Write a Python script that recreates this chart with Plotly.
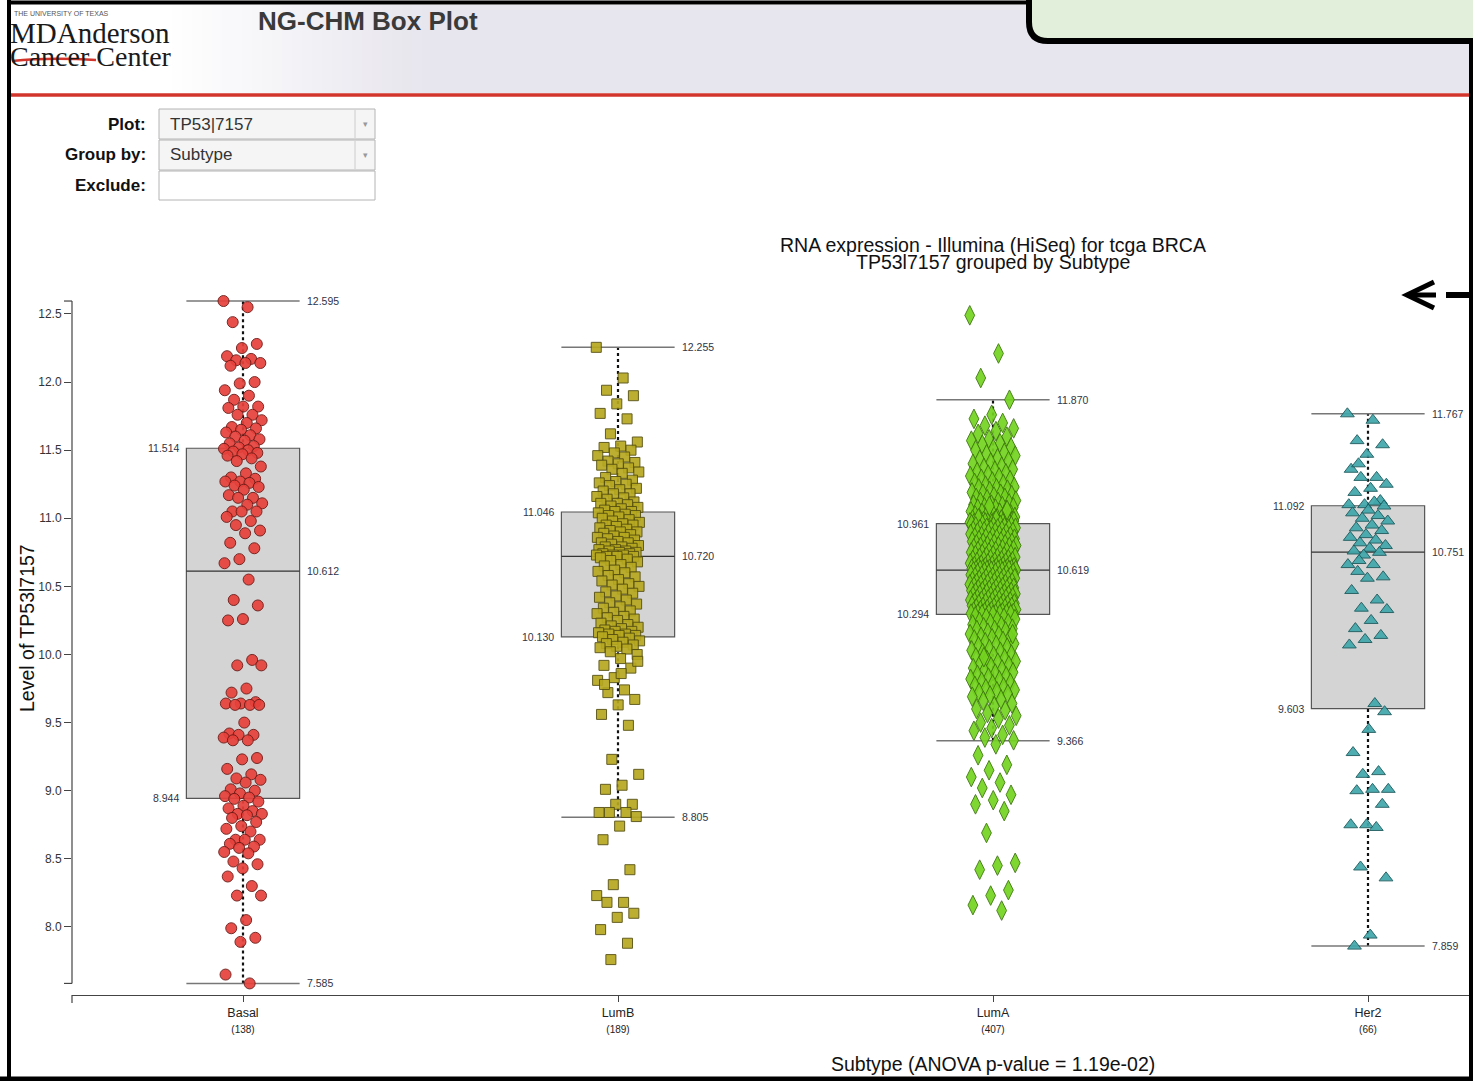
import plotly.graph_objects as go

W, H = 1473, 1081

# ---------------------------------------------------------------- data
categories = ["Basal", "LumB", "LumA", "Her2"]

basal = [
    12.595, 12.55, 12.44, 12.28, 12.25, 12.19, 12.17, 12.16, 12.14, 12.14,
    12.12, 12.00, 11.99, 11.94, 11.90, 11.87, 11.82, 11.82, 11.81, 11.76,
    11.76, 11.72, 11.70, 11.67, 11.66, 11.65, 11.63, 11.61, 11.60, 11.58,
    11.57, 11.55, 11.53, 11.52,
    11.51, 11.50, 11.49, 11.48, 11.47, 11.46, 11.44, 11.42, 11.38, 11.33,
    11.30, 11.29, 11.27, 11.27, 11.26, 11.24, 11.23, 11.21, 11.17, 11.15,
    11.15, 11.11, 11.10, 11.05, 11.05, 11.05, 11.01, 10.98, 10.95, 10.91,
    10.89, 10.82, 10.78, 10.70, 10.67,
    10.55, 10.40, 10.36, 10.26, 10.25, 9.96, 9.92, 9.92, 9.75, 9.72,
    9.65, 9.64, 9.64, 9.63, 9.63, 9.63, 9.50, 9.42, 9.41, 9.41,
    9.39, 9.37, 9.37, 9.24, 9.23, 9.16, 9.12, 9.09, 9.08, 9.06,
    9.01, 9.00, 8.98, 8.96, 8.95,
    8.94, 8.92, 8.89, 8.87, 8.85, 8.83, 8.83, 8.82, 8.80, 8.77,
    8.74, 8.72, 8.70, 8.64, 8.64, 8.64, 8.61, 8.59, 8.58, 8.55,
    8.54, 8.48, 8.46, 8.43, 8.37, 8.30, 8.23, 8.23, 8.05, 7.99,
    7.92, 7.89, 7.65, 7.585,
]

lumb = [
    12.255, 12.03, 11.94, 11.90, 11.84, 11.77, 11.73, 11.62, 11.56, 11.53,
    11.52, 11.50, 11.48, 11.46, 11.45, 11.42, 11.41, 11.40, 11.39, 11.37,
    11.36, 11.34, 11.33, 11.30, 11.28, 11.27, 11.26, 11.25, 11.24, 11.22,
    11.21, 11.20, 11.18, 11.18, 11.16, 11.15, 11.14, 11.12, 11.11, 11.11,
    11.10, 11.09, 11.08, 11.07, 11.06, 11.05, 11.05,
    11.04, 11.03, 11.02, 11.02, 11.01, 11.00, 10.99, 10.98, 10.97, 10.96,
    10.95, 10.95, 10.94, 10.93, 10.92, 10.91, 10.90, 10.90, 10.89, 10.88,
    10.87, 10.86, 10.86, 10.85, 10.84, 10.83, 10.82, 10.82, 10.81, 10.80,
    10.79, 10.79, 10.78, 10.77, 10.77, 10.76, 10.76, 10.75, 10.75, 10.74,
    10.74, 10.73, 10.73, 10.73, 10.72, 10.72, 10.72,
    10.71, 10.70, 10.69, 10.68, 10.66, 10.65, 10.64, 10.62, 10.61, 10.60,
    10.58, 10.57, 10.55, 10.54, 10.52, 10.51, 10.50, 10.48, 10.46, 10.45,
    10.43, 10.42, 10.40, 10.38, 10.37, 10.35, 10.34, 10.32, 10.31, 10.30,
    10.28, 10.27, 10.26, 10.25, 10.23, 10.22, 10.21, 10.20, 10.19, 10.18,
    10.17, 10.17, 10.16, 10.15, 10.15, 10.14, 10.14, 10.13,
    10.12, 10.11, 10.10, 10.09, 10.08, 10.07, 10.06, 10.05, 10.04, 10.02,
    10.00, 9.97, 9.92, 9.90, 9.83, 9.81, 9.74, 9.72, 9.67, 9.63,
    9.56, 9.48, 9.23, 9.12, 9.04, 9.01, 8.90, 8.90, 8.84, 8.84,
    8.84, 8.81, 8.74, 8.64, 8.42, 8.31, 8.23, 8.18, 8.18, 8.10,
    8.07, 7.98, 7.88, 7.76, 9.95, 9.86, 9.78,
]

luma = [
    12.49, 12.21, 12.03, 11.87, 11.76, 11.73, 11.70, 11.68, 11.66, 11.64,
    11.62, 11.60, 11.58, 11.57, 11.55, 11.54, 11.52, 11.51, 11.50, 11.48,
    11.47, 11.46, 11.44, 11.43, 11.42, 11.41, 11.40, 11.38, 11.37, 11.36,
    11.35, 11.34, 11.33, 11.32, 11.31, 11.30, 11.29, 11.28, 11.27, 11.26,
    11.25, 11.24, 11.23, 11.22, 11.22, 11.21, 11.20, 11.19, 11.18, 11.18,
    11.17, 11.16, 11.15, 11.15, 11.14, 11.13, 11.12, 11.12, 11.11, 11.10,
    11.10, 11.09, 11.08, 11.08, 11.07, 11.07, 11.06, 11.05, 11.05, 11.04,
    11.04, 11.03, 11.03, 11.02, 11.02, 11.01, 11.01, 11.00, 11.00, 11.00,
    10.99, 10.99, 10.99, 10.98, 10.98, 10.98, 10.97, 10.97, 10.97, 10.97,
    10.96, 10.96, 10.96, 10.96, 10.965, 10.965, 10.97, 10.98, 10.99, 11.00,
    11.06, 11.09,
    10.955, 10.95, 10.95, 10.945, 10.94, 10.94, 10.935, 10.93, 10.93, 10.925,
    10.92, 10.92, 10.915, 10.91, 10.91, 10.905, 10.90, 10.90, 10.895, 10.89,
    10.89, 10.885, 10.88, 10.87, 10.87, 10.865, 10.86, 10.86, 10.855, 10.85,
    10.85, 10.84, 10.84, 10.835, 10.83, 10.83, 10.82, 10.82, 10.815, 10.81,
    10.81, 10.80, 10.80, 10.795, 10.79, 10.79, 10.78, 10.78, 10.775, 10.77,
    10.77, 10.76, 10.76, 10.755, 10.75, 10.75, 10.74, 10.74, 10.735, 10.73,
    10.73, 10.72, 10.72, 10.715, 10.71, 10.71, 10.70, 10.70, 10.695, 10.69,
    10.69, 10.685, 10.68, 10.68, 10.675, 10.67, 10.67, 10.665, 10.66, 10.66,
    10.655, 10.65, 10.65, 10.645, 10.64, 10.64, 10.64, 10.635, 10.63, 10.63,
    10.63, 10.625, 10.625, 10.62, 10.62, 10.62, 10.62, 10.62, 10.62, 10.62,
    10.62,
    10.615, 10.61, 10.61, 10.605, 10.60, 10.60, 10.595, 10.59, 10.59, 10.585,
    10.58, 10.58, 10.575, 10.57, 10.57, 10.565, 10.56, 10.56, 10.555, 10.55,
    10.55, 10.545, 10.54, 10.54, 10.535, 10.53, 10.53, 10.525, 10.52, 10.52,
    10.515, 10.51, 10.51, 10.505, 10.50, 10.50, 10.495, 10.49, 10.49, 10.485,
    10.48, 10.48, 10.475, 10.47, 10.47, 10.465, 10.46, 10.46, 10.455, 10.45,
    10.45, 10.445, 10.44, 10.44, 10.435, 10.43, 10.43, 10.425, 10.42, 10.42,
    10.415, 10.41, 10.41, 10.405, 10.40, 10.40, 10.395, 10.39, 10.39, 10.385,
    10.38, 10.38, 10.375, 10.37, 10.37, 10.365, 10.36, 10.36, 10.355, 10.35,
    10.35, 10.345, 10.34, 10.34, 10.335, 10.33, 10.33, 10.325, 10.32, 10.32,
    10.315, 10.31, 10.31, 10.305, 10.30, 10.30, 10.30, 10.30, 10.30, 10.295,
    10.295, 10.295,
    10.29, 10.28, 10.27, 10.27, 10.26, 10.25, 10.24, 10.23, 10.23, 10.22,
    10.21, 10.20, 10.19, 10.18, 10.18, 10.17, 10.16, 10.15, 10.14, 10.13,
    10.12, 10.12, 10.11, 10.10, 10.09, 10.08, 10.07, 10.06, 10.05, 10.04,
    10.03, 10.02, 10.01, 10.00, 9.99, 9.98, 9.97, 9.96, 9.95, 9.94,
    9.93, 9.92, 9.91, 9.90, 9.89, 9.88, 9.87, 9.86, 9.85, 9.84,
    9.83, 9.82, 9.81, 9.80, 9.79, 9.78, 9.77, 9.76, 9.75, 9.74,
    9.73, 9.72, 9.71, 9.70, 9.69, 9.67, 9.66, 9.64, 9.62, 9.60,
    9.59, 9.57, 9.55, 9.53, 9.50, 9.48, 9.46, 9.44, 9.41, 9.39,
    9.37, 9.34, 9.26, 9.19, 9.15, 9.10, 9.06, 9.02, 8.97, 8.93,
    8.90, 8.85, 8.69, 8.47, 8.45, 8.42, 8.27, 8.23, 8.16, 8.12,
    9.98, 10.15,
]

her2 = [
    11.767, 11.72, 11.57, 11.54, 11.47, 11.36, 11.30, 11.30, 11.25, 11.22,
    11.19, 11.13, 11.10, 11.10, 11.12, 11.40,
    11.09, 11.06, 11.04, 11.02, 11.00, 10.98, 10.95, 10.93, 10.91, 10.88,
    10.86, 10.84, 10.82, 10.80, 10.78, 10.76, 10.75,
    10.73, 10.66, 10.66, 10.61, 10.57, 10.56, 10.47, 10.40, 10.34, 10.33,
    10.25, 10.19, 10.14, 10.11, 10.07, 9.64, 10.69,
    9.58, 9.45, 9.28, 9.14, 9.12, 9.01, 9.01, 9.00, 8.90, 8.75,
    8.75, 8.73, 8.44, 8.36, 7.94, 7.859,
]

q1 = [8.944, 10.130, 10.294, 9.603]
median = [10.612, 10.720, 10.619, 10.751]
q3 = [11.514, 11.046, 10.961, 11.092]
whisker_lo = [7.585, 8.805, 9.366, 7.859]
whisker_hi = [12.595, 12.255, 11.870, 11.767]

y_ticks = [8.0, 8.5, 9.0, 9.5, 10.0, 10.5, 11.0, 11.5, 12.0, 12.5]

title_1 = "RNA expression - Illumina (HiSeq) for tcga BRCA"
title_2 = "TP53l7157 grouped by Subtype"
y_title = "Level of TP53l7157"
x_title = "Subtype (ANOVA p-value = 1.19e-02)"

groups = [basal, lumb, luma, her2]

# ---------------------------------------------------------------- styling
FONT = "Liberation Sans, Arial, Helvetica, sans-serif"
SERIF = "Liberation Serif, Times New Roman, serif"
styles = [
    dict(symbol="circle", size=11, color="#e8413b", line="#6e1a16", w=0.052),
    dict(symbol="square", size=10, color="#b6a81f", line="#575010", w=0.058),
    dict(symbol="diamond-tall", size=14, color="#74d31f", line="#3d7a0c", w=0.062),
    dict(symbol="triangle-up", size=12, color="#40a7ab", line="#1c5b5e", w=0.055),
]
BOX_HALF = 0.151


def px(x):
    return x / W


def py(y):
    return 1 - y / H


def jitter(n, w):
    # deterministic spread of points around the category centre
    return [((k * 0.6180339887) % 1.0 - 0.5) * 2 * w for k in range(n)]


def page_text(x, y, text, size, anchor="center", family=FONT, color="#111111", **kw):
    return dict(xref="paper", yref="paper", x=px(x), y=py(y), text=text,
                xanchor=anchor, yanchor="middle", showarrow=False,
                font=dict(family=family, size=size, color=color), **kw)


fig = go.Figure()

for i, (vals, st) in enumerate(zip(groups, styles)):
    fig.add_trace(go.Scatter(
        x=[i + j for j in jitter(len(vals), st["w"])],
        y=vals,
        mode="markers",
        marker=dict(symbol=st["symbol"], size=st["size"], color=st["color"],
                    opacity=0.92, line=dict(color=st["line"], width=1)),
        name=categories[i],
        showlegend=False,
        hoverinfo="y",
    ))

shapes = []
annotations = []

# ---- boxes, medians, whiskers
for i in range(len(categories)):
    x0, x1 = i - BOX_HALF, i + BOX_HALF
    shapes.append(dict(type="rect", xref="x", yref="y", x0=x0, x1=x1,
                       y0=q1[i], y1=q3[i], fillcolor="#d4d4d4",
                       line=dict(color="#555555", width=1.2), layer="below"))
    shapes.append(dict(type="line", xref="x", yref="y", x0=x0, x1=x1,
                       y0=median[i], y1=median[i],
                       line=dict(color="#333333", width=1.2), layer="below"))
    for lo, hi in ((q3[i], whisker_hi[i]), (whisker_lo[i], q1[i])):
        shapes.append(dict(type="line", xref="x", yref="y", x0=i, x1=i,
                           y0=lo, y1=hi,
                           line=dict(color="#111111", width=2.2, dash="dot"),
                           layer="below"))
    for wv in (whisker_lo[i], whisker_hi[i]):
        shapes.append(dict(type="line", xref="x", yref="y", x0=x0, x1=x1,
                           y0=wv, y1=wv,
                           line=dict(color="#777777", width=1.5), layer="below"))
    lab = dict(xref="x", yref="y", showarrow=False, yanchor="middle",
               font=dict(family=FONT, size=10.5, color="#2f3545"))
    for v in (whisker_hi[i], median[i], whisker_lo[i]):
        annotations.append(dict(lab, x=x1, y=v, text=f"{v:.3f}",
                                xanchor="left", xshift=5))
    for v in (q3[i], q1[i]):
        annotations.append(dict(lab, x=x0, y=v, text=f"{v:.3f}",
                                xanchor="right", xshift=-5))

# ---- y axis line with end caps spanning the data range
all_vals = [v for g in groups for v in g]
y_lo, y_hi = min(all_vals), max(all_vals)
shapes.append(dict(type="line", xref="paper", yref="y", x0=px(72), x1=px(72),
                   y0=y_lo, y1=y_hi, line=dict(color="#444444", width=1.2)))
for yv in (y_lo, y_hi):
    shapes.append(dict(type="line", xref="paper", yref="y", x0=px(64), x1=px(72),
                       y0=yv, y1=yv, line=dict(color="#444444", width=1.2)))
# left end tick of the x axis
shapes.append(dict(type="line", xref="paper", yref="paper", x0=px(72), x1=px(72),
                   y0=py(995), y1=py(1003), line=dict(color="#444444", width=1.2)))

# ---- chart titles
annotations += [
    page_text(993, 245, title_1, 19.5),
    page_text(993, 262, title_2, 19.5),
    page_text(27, 628, y_title, 19.5, textangle=-90),
    page_text(993, 1064, x_title, 19.5),
]

# ---------------------------------------------------------------- page header
# mosaic-like header band fading in from the logo
band_col = (231, 229, 237)
steps = 26
for k in range(steps):
    t = (k + 1) / steps
    c = tuple(round(255 + (b - 255) * t) for b in band_col)
    shapes.append(dict(type="rect", xref="paper", yref="paper",
                       x0=px(172 + k * 10), x1=px(182 + k * 10),
                       y0=py(93), y1=py(5), line=dict(width=0),
                       fillcolor=f"rgb{c}", layer="below"))
shapes.append(dict(type="rect", xref="paper", yref="paper", x0=px(432), x1=1,
                   y0=py(93), y1=py(5), line=dict(width=0),
                   fillcolor=f"rgb{band_col}", layer="below"))
# red rule under header
shapes.append(dict(type="line", xref="paper", yref="paper", x0=px(10), x1=1,
                   y0=py(95), y1=py(95), line=dict(color="#d2352c", width=3.5)))
# red stroke through "Cancer"
shapes.append(dict(type="path", xref="paper", yref="paper",
                   path=f"M {px(12)},{py(61)} Q {px(50)},{py(57)} {px(96)},{py(60)}",
                   line=dict(color="#d2352c", width=2.5)))

# page frame
frame = dict(color="#000000", width=4)
shapes += [
    dict(type="line", xref="paper", yref="paper", x0=px(9), x1=px(9),
         y0=0, y1=1, line=frame),
    dict(type="line", xref="paper", yref="paper", x0=px(9), x1=px(1030),
         y0=py(2.5), y1=py(2.5), line=frame),
    dict(type="line", xref="paper", yref="paper", x0=0, x1=1,
         y0=py(1079), y1=py(1079), line=dict(color="#000000", width=5)),
    dict(type="line", xref="paper", yref="paper", x0=px(1471), x1=px(1471),
         y0=py(40), y1=0, line=frame),
]
# light green panel with rounded corner, top right
shapes.append(dict(
    type="path", xref="paper", yref="paper",
    path=(f"M {px(1029)},{py(-5)} L {px(1029)},{py(22)} "
          f"Q {px(1029)},{py(41)} {px(1048)},{py(41)} "
          f"L {px(1480)},{py(41)} L {px(1480)},{py(-5)} Z"),
    fillcolor="#e2efda", line=dict(color="#000000", width=6)))

# arrow at the right edge
shapes += [
    dict(type="path", xref="paper", yref="paper",
         path=f"M {px(1434)},{py(282)} L {px(1407)},{py(295)} L {px(1434)},{py(308)}",
         line=dict(color="#000000", width=5)),
    dict(type="line", xref="paper", yref="paper", x0=px(1408), x1=px(1436),
         y0=py(295), y1=py(295), line=dict(color="#000000", width=5)),
    dict(type="line", xref="paper", yref="paper", x0=px(1446), x1=px(1469),
         y0=py(295), y1=py(295), line=dict(color="#000000", width=6)),
]

annotations += [
    page_text(12, 14, "THE UNIVERSITY OF TEXAS", 7, anchor="left", color="#555555"),
    page_text(8, 33, "MDAnderson", 29, anchor="left", family=SERIF, color="#1a1a1a"),
    page_text(8, 57, "Cancer Center", 28, anchor="left", family=SERIF, color="#1a1a1a"),
    page_text(256, 21, "<b>NG-CHM Box Plot</b>", 26, anchor="left", color="#3a3a3a"),
]

# ---------------------------------------------------------------- form controls
controls = [("Plot:", "TP53|7157", 109, 139, True),
            ("Group by:", "Subtype", 140, 170, True),
            ("Exclude:", "", 171, 200, False)]
for label, value, top, bot, dropdown in controls:
    mid = (top + bot) / 2
    shapes.append(dict(type="rect", xref="paper", yref="paper",
                       x0=px(159), x1=px(375), y0=py(bot), y1=py(top),
                       fillcolor="#f5f5f5" if dropdown else "#ffffff",
                       line=dict(color="#b4b4b4", width=1)))
    annotations.append(page_text(148, mid, f"<b>{label}</b>", 17, anchor="right"))
    if dropdown:
        shapes.append(dict(type="line", xref="paper", yref="paper",
                           x0=px(355), x1=px(355), y0=py(bot - 1), y1=py(top + 1),
                           line=dict(color="#cccccc", width=1)))
        annotations.append(page_text(168, mid, value, 17, anchor="left", color="#333333"))
        annotations.append(page_text(365, mid, "▾", 9, color="#999999"))

tick_text = [f"{c}<br><span style='font-size:10px'>({len(g)})</span>"
             for c, g in zip(categories, groups)]

fig.update_layout(
    width=W, height=H,
    margin=dict(l=0, r=0, t=0, b=0, pad=0),
    paper_bgcolor="#ffffff", plot_bgcolor="#ffffff",
    showlegend=False,
    shapes=shapes,
    annotations=annotations,
    xaxis=dict(domain=[px(72), 1.0], range=[-0.456, 3.28],
               tickvals=list(range(len(categories))), ticktext=tick_text,
               ticks="outside", ticklen=6, tickcolor="#444444",
               showline=True, linecolor="#444444", linewidth=1.2,
               showgrid=False, zeroline=False, fixedrange=True,
               tickfont=dict(family=FONT, size=12.5, color="#222222")),
    yaxis=dict(domain=[py(995), py(290)], range=[7.5, 12.676],
               tickvals=y_ticks, ticktext=[f"{v:.1f}" for v in y_ticks],
               ticks="outside", ticklen=7, tickcolor="#444444",
               showline=False, showgrid=False, zeroline=False, fixedrange=True,
               tickfont=dict(family=FONT, size=12, color="#333333")),
)

fig.write_html("out.html")
